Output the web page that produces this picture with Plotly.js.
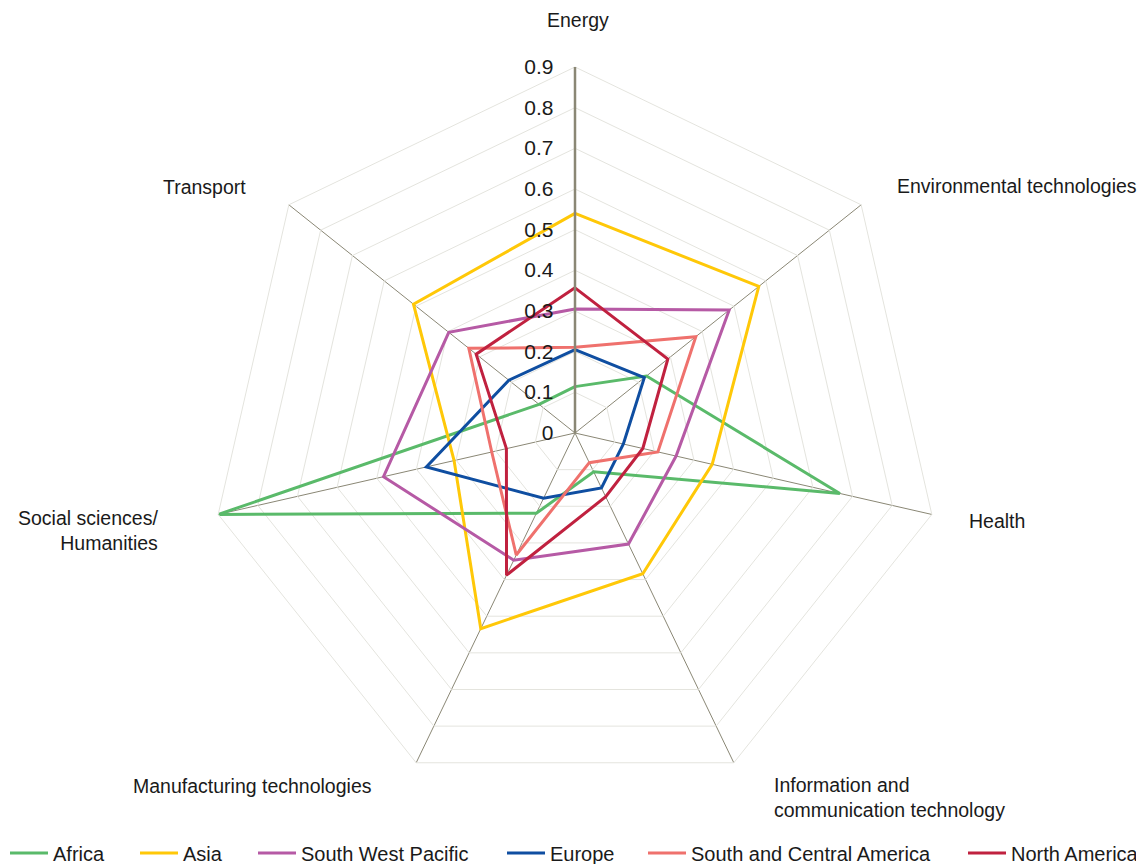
<!DOCTYPE html>
<html>
<head>
<meta charset="utf-8">
<script src="https://cdn.plot.ly/plotly-3.0.1.min.js"></script>
<style>
  html, body { margin: 0; padding: 0; background: #ffffff; overflow: hidden; }
  #chart { width: 1145px; height: 864px; }
</style>
</head>
<body>
<div id="chart"></div>
<script>
// ---- Data ----
const categories = [
  'Energy',
  'Environmental technologies',
  'Health',
  'Information and<br>communication technology',
  'Manufacturing technologies',
  'Social sciences/<br>Humanities',
  'Transport'
];
const seriesNames = ['Africa', 'Asia', 'South West Pacific', 'Europe', 'South and Central America', 'North America'];
const africa   = [0.114, 0.225, 0.668, 0.106, 0.219, 0.900, 0.113];
const asia     = [0.540, 0.578, 0.346, 0.384, 0.534, 0.305, 0.508];
const swPacific= [0.305, 0.485, 0.255, 0.303, 0.347, 0.483, 0.397];
const europe   = [0.205, 0.218, 0.122, 0.150, 0.178, 0.375, 0.208];
const scAmerica= [0.211, 0.380, 0.209, 0.081, 0.333, 0.210, 0.334];
const nAmerica = [0.357, 0.292, 0.171, 0.174, 0.388, 0.173, 0.311];
const radialTicks = [0, 0.1, 0.2, 0.3, 0.4, 0.5, 0.6, 0.7, 0.8, 0.9];
const radialTickText = ['0', '0.1', '0.2', '0.3', '0.4', '0.5', '0.6', '0.7', '0.8', '0.9'];

// ---- Styles / layout helpers ----
const W = 1145, H = 864;
const colors = ['#5aba6a', '#ffc808', '#b65aa5', '#0f4ea1', '#ef716d', '#c0213f'];
const legendWidths = [77, 65, 196, 88, 267, 120];
const FONT = 'Liberation Sans, Arial, sans-serif';
// category label placement (pixels from top-left), anchors
const labelPos = [
  { x: 578, y: 20,  xa: 'center', align: 'center' },
  { x: 896, y: 186, xa: 'left',   align: 'left' },
  { x: 968, y: 521, xa: 'left',   align: 'left' },
  { x: 773, y: 797, xa: 'left',   align: 'left' },
  { x: 373, y: 786, xa: 'right',  align: 'right' },
  { x: 159, y: 530, xa: 'right',  align: 'right' },
  { x: 247, y: 187, xa: 'right',  align: 'right' }
];

const values = [africa, asia, swPacific, europe, scAmerica, nAmerica];

const traces = values.map((v, i) => ({
  type: 'scatterpolar',
  mode: 'lines',
  name: seriesNames[i],
  r: v.concat([v[0]]),
  theta: categories.concat([categories[0]]),
  line: { color: colors[i], width: 3 },
  cliponaxis: false,
  hoverinfo: 'skip',
  legendwidth: legendWidths[i]
}));

const annotations = categories.map((c, i) => ({
  xref: 'paper', yref: 'paper',
  x: labelPos[i].x / W,
  y: 1 - labelPos[i].y / H,
  xanchor: labelPos[i].xa,
  yanchor: 'middle',
  align: labelPos[i].align,
  text: c,
  showarrow: false,
  borderpad: 0,
  font: { family: FONT, size: 19.5, color: '#1a1a1a' }
}));

const layout = {
  width: W,
  height: H,
  margin: { l: 0, r: 0, t: 0, b: 0, autoexpand: false },
  paper_bgcolor: '#ffffff',
  font: { family: FONT, color: '#1a1a1a', size: 20 },
  showlegend: true,
  legend: {
    orientation: 'h',
    x: 5 / W, xanchor: 'left',
    y: -0.0098, yanchor: 'bottom',
    itemwidth: 38,
    font: { family: FONT, size: 20, color: '#1a1a1a' },
    bgcolor: 'rgba(0,0,0,0)'
  },
  annotations: annotations,
  polar: {
    domain: { x: [209 / W, 941 / W], y: [65 / H, 797 / H] },
    bgcolor: '#ffffff',
    gridshape: 'linear',
    angularaxis: {
      type: 'category',
      categoryarray: categories,
      direction: 'clockwise',
      rotation: 90,
      showgrid: true,
      gridcolor: '#8a8775',
      gridwidth: 1,
      showline: true,
      linecolor: '#e4e4de',
      linewidth: 1,
      ticks: '',
      showticklabels: false
    },
    radialaxis: {
      range: [0, 0.9],
      angle: 90,
      side: 'counterclockwise',
      tickmode: 'array',
      tickvals: radialTicks,
      ticktext: radialTickText,
      showline: true,
      linecolor: '#8a8775',
      linewidth: 2.5,
      showgrid: true,
      gridcolor: '#e4e4de',
      gridwidth: 1,
      ticks: 'outside',
      ticklen: 13,
      tickcolor: 'rgba(0,0,0,0)',
      tickangle: 90,
      tickfont: { family: FONT, size: 21, color: '#1a1a1a' }
    }
  }
};

Plotly.newPlot('chart', traces, layout, { displayModeBar: false, staticPlot: true });
</script>
</body>
</html>
